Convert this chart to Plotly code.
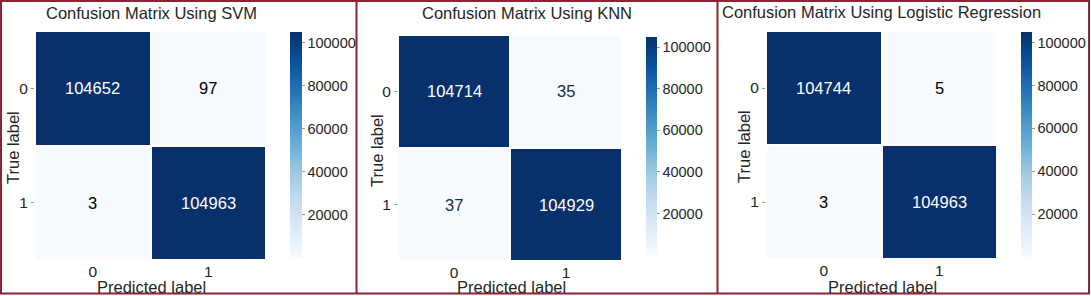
import plotly.graph_objects as go

W, H = 1091, 296

labels = ["0", "1"]
titles = ["Confusion Matrix Using SVM", "Confusion Matrix Using KNN",
          "Confusion Matrix Using Logistic Regression"]
svm = [[104652, 97], [3, 104963]]
knn = [[104714, 35], [37, 104929]]
logreg = [[104744, 5], [3, 104963]]
matrices = [svm, knn, logreg]
cbar_ticks = [20000, 40000, 60000, 80000, 100000]

# light-cell text colours per panel
light_text = ["#000000", "#1c2c4c", "#000000"]

blues = [[0.0, "#f7fbff"], [0.125, "#deebf7"], [0.25, "#c6dbef"], [0.375, "#9ecae1"],
         [0.5, "#6baed6"], [0.625, "#4292c6"], [0.75, "#2171b5"], [0.875, "#08519c"],
         [1.0, "#08306b"]]

# pixel layout of each panel: heatmap box, colorbar box, title centre, axis title centres
panels = [
    dict(hm=(35, 266, 31, 260), cb=(290, 302, 32, 258), title=(151, 13), ylab=(13, 148), xlab=(151, 287)),
    dict(hm=(398, 622, 35, 261), cb=(646, 657, 37, 255), title=(527, 13), ylab=(377, 151), xlab=(511, 287)),
    dict(hm=(766, 997, 31, 259), cb=(1021, 1032, 32, 257), title=(881, 12), ylab=(744, 147), xlab=(882, 287)),
]

def px(x):
    return x / W

def py(y):
    return 1 - y / H

FONT = "Arial, Liberation Sans, sans-serif"
TXT = "#262626"

fig = go.Figure()
annotations = []
layout = {}

for i, (m, p) in enumerate(zip(matrices, panels)):
    n = "" if i == 0 else str(i + 1)
    x0, x1, y0, y1 = p["hm"]
    cx0, cx1, cy0, cy1 = p["cb"]
    flat = [v for row in m for v in row]
    zmin, zmax = min(flat), max(flat)
    fig.add_trace(go.Heatmap(
        z=m, x=labels, y=labels, xaxis="x" + n, yaxis="y" + n,
        colorscale=blues, zmin=zmin, zmax=zmax, xgap=2, ygap=2,
        hoverinfo="skip",
        colorbar=dict(
            x=px(cx0), xanchor="left", xpad=0, ypad=0,
            y=py(cy0), yanchor="top", len=(cy1 - cy0) / H, lenmode="fraction",
            thickness=cx1 - cx0, outlinewidth=0,
            tickvals=cbar_ticks, ticktext=[str(t) for t in cbar_ticks],
            ticks="outside", ticklen=3, tickcolor="#999999",
            tickfont=dict(family=FONT, size=14.5, color=TXT),
        ),
    ))
    layout["xaxis" + n] = dict(
        domain=[px(x0), px(x1)], anchor="y" + n, showgrid=False, zeroline=False,
        showline=False, ticks="",
        tickfont=dict(family=FONT, size=15.5, color=TXT), fixedrange=True,
    )
    layout["yaxis" + n] = dict(
        domain=[py(y1), py(y0)], anchor="x" + n, showgrid=False, zeroline=False,
        showline=False, ticks="outside", ticklen=3, tickcolor="#999999",
        autorange="reversed", tickfont=dict(family=FONT, size=15.5, color=TXT),
        fixedrange=True,
    )
    mid = (zmin + zmax) / 2
    for r, row in enumerate(m):
        for c, v in enumerate(row):
            annotations.append(dict(
                x=labels[c], y=labels[r], xref="x" + n, yref="y" + n,
                text=str(v), showarrow=False,
                font=dict(family=FONT, size=16.5,
                          color="#ffffff" if v > mid else light_text[i]),
            ))
    tx, ty = p["title"]
    annotations.append(dict(x=px(tx), y=py(ty), xref="paper", yref="paper",
                            text=titles[i], showarrow=False, xanchor="center",
                            yanchor="middle",
                            font=dict(family=FONT, size=16.5, color=TXT)))
    lx, ly = p["ylab"]
    annotations.append(dict(x=px(lx), y=py(ly), xref="paper", yref="paper",
                            text="True label", showarrow=False, textangle=-90,
                            xanchor="center", yanchor="middle",
                            font=dict(family=FONT, size=16.5, color=TXT)))
    bx, by = p["xlab"]
    annotations.append(dict(x=px(bx), y=py(by), xref="paper", yref="paper",
                            text="Predicted label", showarrow=False,
                            xanchor="center", yanchor="middle",
                            font=dict(family=FONT, size=16.5, color=TXT)))

BORDER = "#8b2535"
shapes = []
for x in [1, 356.5, 717.5, 1089]:
    shapes.append(dict(type="line", xref="paper", yref="paper",
                       x0=px(x), x1=px(x), y0=py(0), y1=py(294),
                       line=dict(color=BORDER, width=2)))
for y in [1, 293.5]:
    shapes.append(dict(type="line", xref="paper", yref="paper",
                       x0=px(0), x1=px(1090), y0=py(y), y1=py(y),
                       line=dict(color=BORDER, width=2)))

fig.update_layout(
    width=W, height=H, margin=dict(l=0, r=0, t=0, b=0),
    paper_bgcolor="white", plot_bgcolor="white",
    annotations=annotations, shapes=shapes, showlegend=False,
    font=dict(family=FONT, color=TXT),
    **layout,
)

fig.write_html("out.html", config={"displayModeBar": False})
